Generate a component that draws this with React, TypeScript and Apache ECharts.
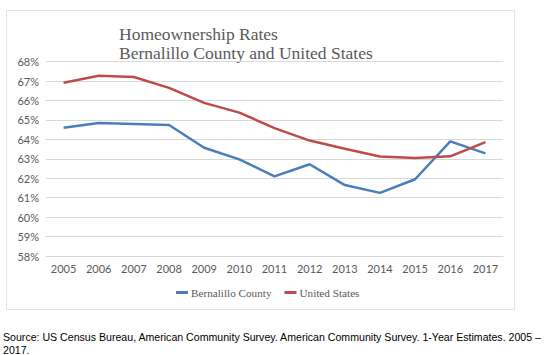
import React, { useEffect, useRef } from "react";
import * as echarts from "echarts";

const years = ["2005","2006","2007","2008","2009","2010","2011","2012","2013","2014","2015","2016","2017"];
const bernalillo = [64.6, 64.85, 64.8, 64.74, 63.57, 62.97, 62.1, 62.72, 61.65, 61.25, 61.95, 63.9, 63.28];
const unitedStates = [66.92, 67.28, 67.21, 66.65, 65.88, 65.38, 64.58, 63.94, 63.52, 63.12, 63.05, 63.13, 63.86];
const yTicks = { min: 58, max: 68, step: 1 };

export default function App() {
  const ref = useRef<HTMLDivElement>(null);
  useEffect(() => {
    document.body.style.margin = "0";
    const chart = echarts.init(ref.current!, null, { renderer: "svg" });
    chart.setOption({
      animation: false,
      backgroundColor: "#ffffff",
      graphic: [
        {
          type: "rect",
          shape: { x: 6.5, y: 10.5, width: 508, height: 299 },
          style: { fill: "none", stroke: "#e3e3e3", lineWidth: 1 },
          silent: true,
        },
        {
          type: "text",
          x: 119,
          y: 24,
          style: {
            text: "Homeownership Rates\nBernalillo County and United States",
            fontFamily: "Liberation Serif",
            fontSize: 17.5,
            lineHeight: 19,
            fill: "#595959",
          },
        },
        {
          type: "text",
          x: 3,
          y: 331,
          style: {
            text: "Source: US Census Bureau, American Community Survey. American Community Survey. 1-Year Estimates. 2005 –\n2017.",
            fontFamily: "Liberation Sans",
            fontSize: 10.6,
            lineHeight: 12.5,
            fill: "#000000",
          },
        },
      ],
      legend: {
        left: 171,
        top: 282,
        icon: "rect",
        itemWidth: 12,
        itemHeight: 3,
        itemGap: 13,
        textStyle: { fontFamily: "Liberation Serif", fontSize: 11.2, color: "#595959", padding: [0, 0, 0, -2] },
        data: ["Bernalillo County", "United States"],
      },
      grid: { left: 46, right: 56, top: 61.7, bottom: 99 },
      xAxis: {
        type: "category",
        data: years,
        boundaryGap: true,
        axisLine: { lineStyle: { color: "#d9d9d9" } },
        axisTick: { show: false },
        axisLabel: { color: "#595959", fontFamily: "Lato", fontSize: 11, margin: 7 },
      },
      yAxis: {
        type: "value",
        min: yTicks.min,
        max: yTicks.max,
        interval: yTicks.step,
        axisLine: { show: false },
        axisTick: { show: false },
        axisLabel: { color: "#595959", fontFamily: "Lato", fontSize: 11, margin: 7, formatter: "{value}%" },
        splitLine: { lineStyle: { color: "#d9d9d9", width: 1 } },
      },
      series: [
        {
          name: "Bernalillo County",
          type: "line",
          data: bernalillo,
          showSymbol: false,
          symbol: "none",
          lineStyle: { color: "#4a7ebb", width: 2.5 },
          itemStyle: { color: "#4a7ebb" },
        },
        {
          name: "United States",
          type: "line",
          data: unitedStates,
          showSymbol: false,
          symbol: "none",
          lineStyle: { color: "#be4b48", width: 2.5 },
          itemStyle: { color: "#be4b48" },
        },
      ],
    });
    return () => chart.dispose();
  }, []);
  return <div ref={ref} style={{ width: 559, height: 355 }} />;
}
